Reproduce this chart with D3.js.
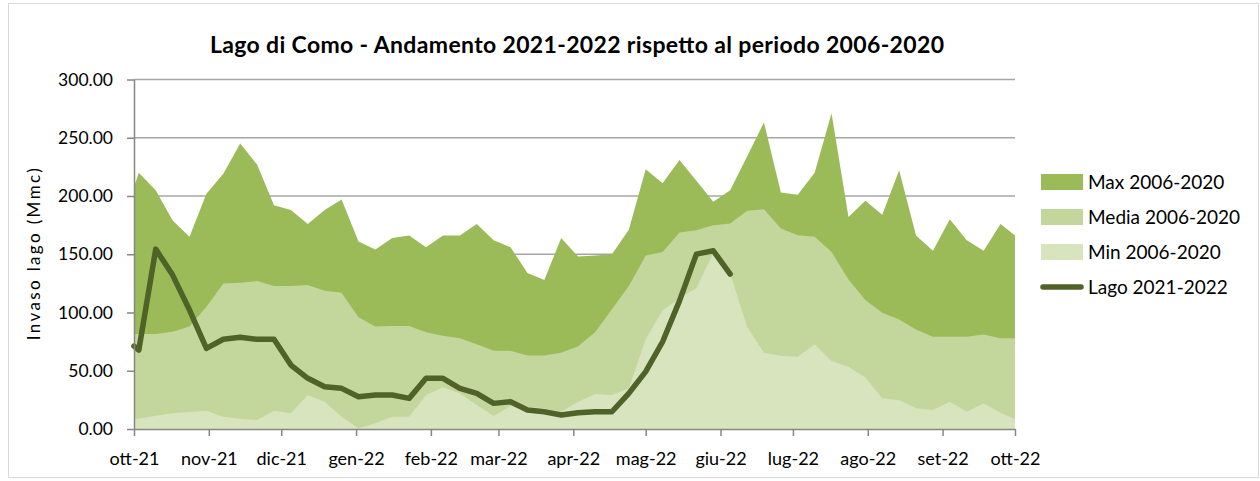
<!DOCTYPE html>
<html>
<head>
<meta charset="utf-8">
<script src="https://cdn.jsdelivr.net/npm/d3@7"></script>
<style>
  body { margin: 0; background: #fff; }
  text { font-family: Lato, "Open Sans", sans-serif; fill: #000; }
</style>
</head>
<body>
<div id="wrapper"></div>
<script>
// weekly readings (first and last are the period bounds)
const dates = [
  "2021-10-01", "2021-10-03", "2021-10-10", "2021-10-17", "2021-10-24", "2021-10-31",
  "2021-11-07", "2021-11-14", "2021-11-21", "2021-11-28",
  "2021-12-05", "2021-12-12", "2021-12-19", "2021-12-26",
  "2022-01-02", "2022-01-09", "2022-01-16", "2022-01-23", "2022-01-30",
  "2022-02-06", "2022-02-13", "2022-02-20", "2022-02-27",
  "2022-03-06", "2022-03-13", "2022-03-20", "2022-03-27",
  "2022-04-03", "2022-04-10", "2022-04-17", "2022-04-24",
  "2022-05-01", "2022-05-08", "2022-05-15", "2022-05-22", "2022-05-29",
  "2022-06-05", "2022-06-12", "2022-06-19", "2022-06-26",
  "2022-07-03", "2022-07-10", "2022-07-17", "2022-07-24", "2022-07-31",
  "2022-08-07", "2022-08-14", "2022-08-21", "2022-08-28",
  "2022-09-04", "2022-09-11", "2022-09-18", "2022-09-25", "2022-10-01"
]

const maxValues = [
  208, 220, 205, 179, 165, 202, 219, 245, 227, 192, 188, 176, 188, 197,
  161, 154, 164, 166, 156, 166, 166, 176, 162, 156, 134, 128, 164, 148,
  149, 150, 171, 223, 211, 231, 213, 195, 205, 234, 263, 203, 201, 220,
  271, 182, 196, 184, 222, 166, 153, 180, 162, 153, 176, 166
]

const mediaValues = [
  81.5, 81.5, 81.5, 83.5, 88, 105, 125, 125.5, 127, 122.7, 122.7, 123.5, 118.6, 117,
  96, 88, 88.4, 88.4, 83, 80, 78, 72.7, 67.2, 67.2, 63, 63, 65.5, 71,
  83, 102.7, 122.7, 149, 152, 168.7, 170.7, 175, 176.5, 187.3, 188.7, 172.2, 166.4, 165,
  152, 128.4, 110.7, 99.8, 94, 85.5, 79.2, 79.2, 79.2, 81.2, 77.8, 77.8
]

const minValues = [
  8.3, 8.8, 11.4, 13.5, 14.6, 15.7, 10.6, 8.8, 7.7, 15.7, 13.5, 29.2, 23.4, 10.6,
  0.6, 4.9, 10.6, 10.6, 29.2, 35.8, 30.6, 20.6, 11.2, 19.7, 19.1, 17.8, 14.8, 23.4,
  30, 29.2, 34.9, 77, 102, 112, 121, 151, 133.6, 87.8, 65.5, 62.9, 62, 72.7,
  58.3, 53.4, 44.3, 26.3, 24.9, 17.8, 16.3, 23.4, 14.8, 22, 14, 8.3
]

// 2021-2022 readings stop in June
const lakeValues = [
  71.2, 67.8, 154.4, 132.1, 102.1, 69.2, 77, 78.7, 77, 77, 54.9, 43.5, 36.3, 34.9,
  27.7, 29.2, 29.2, 26.3, 43.5, 43.5, 34.9, 30.6, 22, 23.4, 16.3, 14.8, 12, 14,
  14.8, 14.8, 30.6, 49.2, 74.9, 110, 150.1, 153, 133
]

const monthLabels = ["ott-21", "nov-21", "dic-21", "gen-22", "feb-22", "mar-22", "apr-22",
  "mag-22", "giu-22", "lug-22", "ago-22", "set-22", "ott-22"]
const yTicks = [0, 50, 100, 150, 200, 250, 300]

const seriesNames = ["Max 2006-2020", "Media 2006-2020", "Min 2006-2020", "Lago 2021-2022"]
const seriesColors = ["#9BBB59", "#C3D69B", "#D7E4BD", "#4F6228"]

function drawChart() {
    const parseDate = d3.timeParse("%Y-%m-%d")
    const dateAccessor = d => d.date
    const valueAccessor = d => d.value

    const toSeries = values => values.map((v, i) => ({ date: parseDate(dates[i]), value: v }))
    const areaSeries = [maxValues, mediaValues, minValues].map(toSeries)
    const lakeSeries = toSeries(lakeValues)

    let dimensions = {
      width: 1260,
      height: 481,
      margin: {
        top: 79.5,
        right: 245,
        bottom: 52,
        left: 134,
      },
    }
    dimensions.boundedWidth = dimensions.width
      - dimensions.margin.left
      - dimensions.margin.right
    dimensions.boundedHeight = dimensions.height
      - dimensions.margin.top
      - dimensions.margin.bottom

    const wrapper = d3.select("#wrapper")
        .append("svg")
        .attr("width", dimensions.width)
        .attr("height", dimensions.height)

    // outer chart frame
    wrapper.append("rect")
        .attr("x", 8.5)
        .attr("y", 3.5)
        .attr("width", 1250)
        .attr("height", 474)
        .attr("fill", "none")
        .attr("stroke", "#d9d9d9")

    wrapper.append("text")
        .attr("x", 577)
        .attr("y", 53)
        .attr("text-anchor", "middle")
        .attr("textLength", 734)
        .attr("lengthAdjust", "spacing")
        .style("font-size", "23px")
        .style("font-weight", "bold")
        .text("Lago di Como - Andamento 2021-2022 rispetto al periodo 2006-2020")

    const bounds = wrapper.append("g")
        .attr("transform", `translate(${dimensions.margin.left}, ${dimensions.margin.top})`)

    const xScaler = d3.scaleTime()
        .domain([parseDate(dates[0]), parseDate(dates[dates.length - 1])])
        .range([0, dimensions.boundedWidth])

    const yScaler = d3.scaleLinear()
        .domain([0, 300])
        .range([dimensions.boundedHeight, 0])

    // gridlines
    bounds.append("g")
        .selectAll("line")
        .data(yTicks.slice(1))
        .enter()
        .append("line")
        .attr("x1", 0)
        .attr("x2", dimensions.boundedWidth)
        .attr("y1", d => yScaler(d))
        .attr("y2", d => yScaler(d))
        .attr("stroke", "#a6a6a6")
        .attr("stroke-width", 1.5)

    const areaGenerator = d3.area()
        .x(d => xScaler(dateAccessor(d)))
        .y0(dimensions.boundedHeight)
        .y1(d => yScaler(valueAccessor(d)))

    bounds.append("g")
        .selectAll("path")
        .data(areaSeries)
        .enter()
        .append("path")
        .attr("d", areaGenerator)
        .attr("fill", (d, i) => seriesColors[i])

    const lineGenerator = d3.line()
        .x(d => xScaler(dateAccessor(d)))
        .y(d => yScaler(valueAccessor(d)))

    bounds.append("path")
        .attr("d", lineGenerator(lakeSeries))
        .attr("fill", "none")
        .attr("stroke", seriesColors[3])
        .attr("stroke-width", 5.5)
        .attr("stroke-linejoin", "round")
        .attr("stroke-linecap", "round")

    // axes
    const monthTicks = d3.timeMonth.range(xScaler.domain()[0], d3.timeDay.offset(xScaler.domain()[1], 1))
    const xAxisGenerator = d3.axisBottom(xScaler)
        .tickValues(monthTicks)
        .tickSize(7)
        .tickSizeOuter(0)
        .tickPadding(16)
        .tickFormat((d, i) => monthLabels[i])

    const xAxis = bounds.append("g")
        .attr("transform", `translate(0, ${dimensions.boundedHeight})`)
        .call(xAxisGenerator)

    const yAxisGenerator = d3.axisLeft(yScaler)
        .tickValues(yTicks)
        .tickSize(7)
        .tickSizeOuter(0)
        .tickPadding(14)
        .tickFormat(d3.format(".2f"))

    const yAxis = bounds.append("g").call(yAxisGenerator)

    ;[xAxis, yAxis].forEach(axis => {
        axis.select(".domain").attr("stroke", "#868686").attr("stroke-width", 1.5)
        axis.selectAll(".tick line").attr("stroke", "#868686").attr("stroke-width", 1.5)
        axis.selectAll(".tick text")
            .attr("fill", "#000")
            .style("font-size", "17.5px")
            .style("font-family", "Lato, sans-serif")
    })
    xAxis.selectAll(".tick text").style("font-size", "18px")

    wrapper.append("text")
        .attr("transform", `translate(40, ${dimensions.margin.top + dimensions.boundedHeight / 2}) rotate(-90)`)
        .attr("text-anchor", "middle")
        .attr("textLength", 172)
        .attr("lengthAdjust", "spacing")
        .style("font-size", "17px")
        .text("Invaso lago (Mmc)")

    // legend
    const legend = wrapper.append("g")
        .attr("transform", "translate(1041, 182)")

    const legendItems = legend.selectAll("g")
        .data(seriesNames)
        .enter()
        .append("g")
        .attr("transform", (d, i) => `translate(0, ${i * 35})`)

    legendItems.filter((d, i) => i < 3)
        .append("rect")
        .attr("x", 0)
        .attr("y", -8)
        .attr("width", 42)
        .attr("height", 16)
        .attr("fill", (d, i) => seriesColors[i])

    legendItems.filter((d, i) => i === 3)
        .append("line")
        .attr("x1", 2)
        .attr("x2", 40)
        .attr("y1", 0)
        .attr("y2", 0)
        .attr("stroke", seriesColors[3])
        .attr("stroke-width", 5.5)
        .attr("stroke-linecap", "round")

    legendItems.append("text")
        .attr("x", 47)
        .attr("y", 6.5)
        .style("font-size", "19px")
        .text(d => d)
}

drawChart()
</script>
</body>
</html>
